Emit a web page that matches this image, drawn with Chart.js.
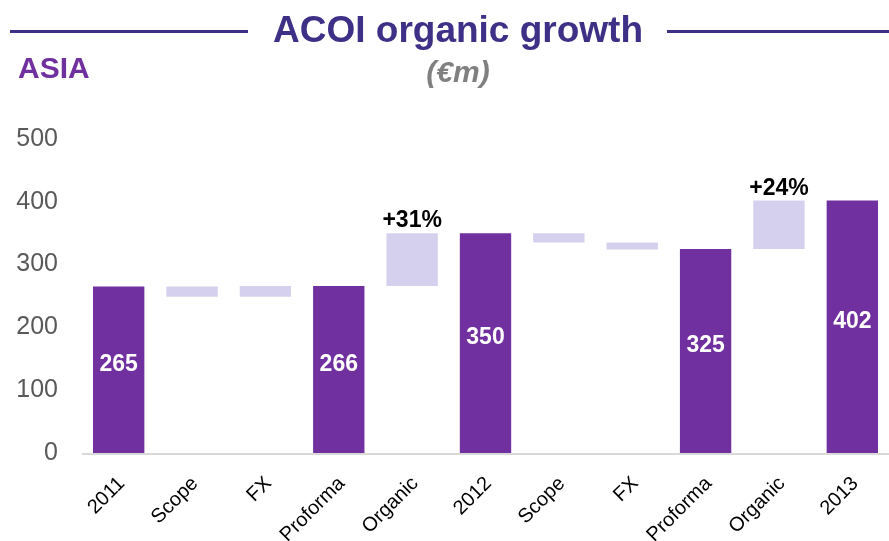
<!DOCTYPE html>
<html>
<head>
<meta charset="utf-8">
<script src="https://cdn.jsdelivr.net/npm/chart.js@4/dist/chart.umd.min.js"></script>
<style>
  html, body { margin: 0; padding: 0; background: #fff; }
  #wrap { position: relative; width: 889px; height: 541px; font-family: "Liberation Sans", Arial, sans-serif; }
  #chart { position: absolute; left: 0; top: 0; }
  .rule { position: absolute; top: 30px; height: 3px; background: #3d3086; }
  #title { position: absolute; left: 0; width: 916px; top: 9px; text-align: center; font-size: 37px; font-weight: bold; color: #3d3086; }
  #unit { position: absolute; left: 0; width: 916px; top: 55px; text-align: center; font-size: 30px; font-weight: bold; font-style: italic; color: #808080; }
  #region { position: absolute; left: 18px; top: 51px; font-size: 30px; font-weight: bold; color: #7030a0; }
</style>
</head>
<body>
<div id="wrap">
  <canvas id="chart" width="889" height="541"></canvas>
  <div class="rule" style="left:10px; width:238px;"></div>
  <div class="rule" style="left:667px; width:222px;"></div>
  <div id="title">ACOI organic growth</div>
  <div id="unit">(€m)</div>
  <div id="region">ASIA</div>
</div>
<script>
'use strict';

var categories = ['2011', 'Scope', 'FX', 'Proforma', 'Organic', '2012', 'Scope', 'FX', 'Proforma', 'Organic', '2013'];
// full bars (totals)
var totals = [265, null, null, 266, null, 350, null, null, 325, null, 402];
// floating steps: bottom / top
var stepLow = [null, 249, 249, null, 266, null, 335, 324, null, 325, null];
var stepHigh = [null, 265, 266, null, 350, null, 350, 335, null, 402, null];
var growthLabels = ['', '', '', '', '+31%', '', '', '', '', '+24%', ''];
var yTicks = [0, 100, 200, 300, 400, 500];

var DARK = '#7030a0';
var LIGHT = '#d5d0ed';

var barData = [];
var barColors = [];
for (var i = 0; i < categories.length; i++) {
  if (totals[i] !== null) {
    barData.push([0, totals[i]]);
    barColors.push(DARK);
  } else {
    barData.push([stepLow[i], stepHigh[i]]);
    barColors.push(LIGHT);
  }
}

// value labels inside totals, growth % above organic steps
var labelPlugin = {
  id: 'labels',
  afterDatasetsDraw: function(chart) {
    var ctx = chart.ctx;
    var meta = chart.getDatasetMeta(0);
    ctx.save();
    ctx.textAlign = 'center';
    meta.data.forEach(function(bar, idx) {
      if (totals[idx] !== null) {
        ctx.font = 'bold 23px "Liberation Sans", Arial, sans-serif';
        ctx.fillStyle = '#ffffff';
        ctx.textBaseline = 'middle';
        ctx.fillText(String(totals[idx]), bar.x, (bar.y + bar.base) / 2 - 5);
      }
      if (growthLabels[idx]) {
        ctx.font = 'bold 23px "Liberation Sans", Arial, sans-serif';
        ctx.fillStyle = '#000000';
        ctx.textBaseline = 'alphabetic';
        ctx.fillText(growthLabels[idx], bar.x, bar.y - 6);
      }
    });
    ctx.restore();
  }
};

// baseline across the plot
var baselinePlugin = {
  id: 'baseline',
  beforeDatasetsDraw: function(chart) {
    var ctx = chart.ctx;
    var y = chart.scales.y.getPixelForValue(0);
    ctx.save();
    ctx.strokeStyle = '#d9d9d9';
    ctx.lineWidth = 2;
    ctx.beginPath();
    ctx.moveTo(chart.chartArea.left, y + 1);
    ctx.lineTo(889, y + 1);
    ctx.stroke();
    ctx.restore();
  }
};

var ctx = document.getElementById('chart').getContext('2d');
var myChart = new Chart(ctx, {
  type: 'bar',
  data: {
    labels: categories,
    datasets: [{
      data: barData,
      backgroundColor: barColors,
      borderWidth: 0,
      barPercentage: 0.7,
      categoryPercentage: 1.0
    }]
  },
  options: {
    responsive: false,
    animation: false,
    layout: { padding: { top: 139, right: -4, bottom: 0, left: 0 } },
    plugins: {
      legend: { display: false },
      tooltip: { enabled: false }
    },
    scales: {
      x: {
        afterFit: function(axis) { axis.height = 88; },
        grid: { display: false, drawTicks: false },
        border: { display: false },
        ticks: {
          color: '#000000',
          font: { family: '"Liberation Sans", Arial, sans-serif', size: 20 },
          minRotation: 45,
          maxRotation: 45,
          padding: 19,
          labelOffset: 3,
          autoSkip: false
        }
      },
      y: {
        min: 0,
        max: 500,
        afterBuildTicks: function(axis) {
          axis.ticks = yTicks.map(function(v) { return { value: v }; });
        },
        afterFit: function(axis) { axis.width = 82; },
        grid: { display: false, drawTicks: false },
        border: { display: false },
        ticks: {
          color: '#595959',
          font: { family: '"Liberation Sans", Arial, sans-serif', size: 25 },
          padding: 24
        }
      }
    }
  },
  plugins: [baselinePlugin, labelPlugin]
});
</script>
</body>
</html>
